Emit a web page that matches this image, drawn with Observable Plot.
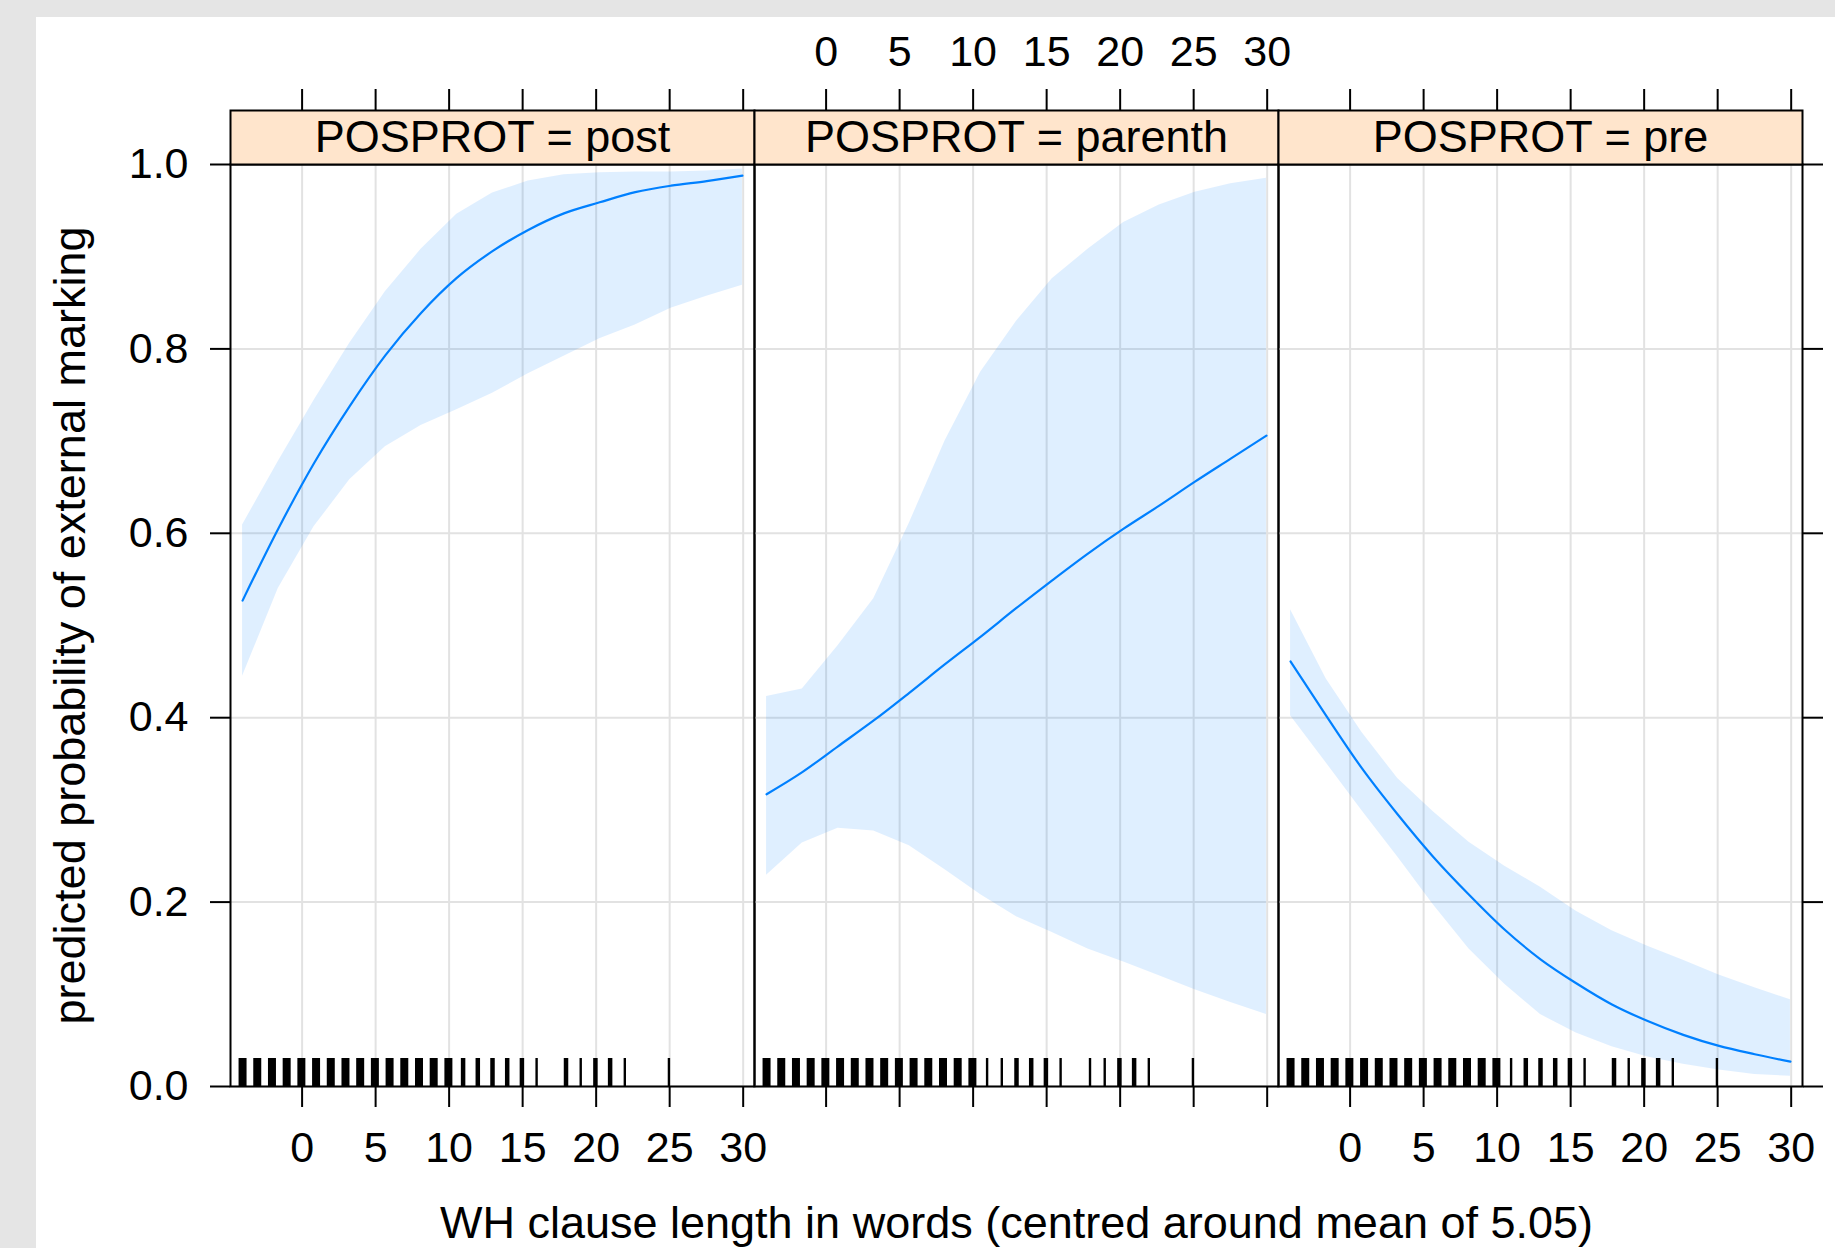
<!DOCTYPE html>
<html><head><meta charset="utf-8">
<script src="https://cdn.jsdelivr.net/npm/d3@7"></script>
<script src="https://cdn.jsdelivr.net/npm/@observablehq/plot@0.6"></script>
<style>
html,body{margin:0;padding:0;background:#e5e5e5;}
#page{position:relative;width:1835px;height:1248px;background:#e5e5e5;overflow:hidden;}
#white{position:absolute;left:36px;top:17px;right:0;bottom:0;background:#fff;}
.panel{position:absolute;top:0;}
</style></head>
<body><div id="page"><div id="white"></div></div>
<script>
// ---- data ----
const panelNames = ["POSPROT = post", "POSPROT = parenth", "POSPROT = pre"];
const xTicks = [0, 5, 10, 15, 20, 25, 30];
const yTicks = [0, 0.2, 0.4, 0.6, 0.8, 1.0];
const xGrid = [-4.05, -1.62, 0.81, 3.24, 5.66, 8.09, 10.52, 12.95, 15.38, 17.81, 20.24, 22.66, 25.09, 27.52, 29.95];

const postFit = [0.527, 0.605, 0.676, 0.738, 0.793, 0.839, 0.877, 0.906, 0.929, 0.947, 0.959, 0.970, 0.977, 0.982, 0.988];
const postLo  = [0.445, 0.540, 0.607, 0.658, 0.694, 0.717, 0.734, 0.752, 0.773, 0.792, 0.811, 0.826, 0.844, 0.857, 0.869];
const postHi  = [0.609, 0.678, 0.744, 0.806, 0.862, 0.908, 0.946, 0.969, 0.982, 0.989, 0.991, 0.992, 0.992, 0.993, 0.995];

const parFit = [0.317, 0.341, 0.369, 0.397, 0.427, 0.458, 0.488, 0.519, 0.549, 0.578, 0.605, 0.630, 0.656, 0.681, 0.706];
const parLo  = [0.229, 0.264, 0.280, 0.277, 0.261, 0.235, 0.208, 0.184, 0.167, 0.149, 0.135, 0.120, 0.105, 0.091, 0.078];
const parHi  = [0.423, 0.431, 0.478, 0.529, 0.611, 0.700, 0.775, 0.830, 0.876, 0.908, 0.937, 0.956, 0.970, 0.979, 0.985];

const preFit = [0.461, 0.402, 0.345, 0.295, 0.249, 0.208, 0.170, 0.138, 0.112, 0.089, 0.071, 0.056, 0.044, 0.035, 0.027];
const preLo  = [0.402, 0.351, 0.299, 0.249, 0.197, 0.149, 0.111, 0.078, 0.058, 0.043, 0.032, 0.024, 0.018, 0.013, 0.011];
const preHi  = [0.517, 0.442, 0.384, 0.334, 0.298, 0.265, 0.239, 0.216, 0.190, 0.169, 0.152, 0.137, 0.121, 0.107, 0.094];

// rug: observed clause lengths (centred), grouped by how many observations overlap
const rugDense = [-4.05, -3.05, -2.05, -1.05, -0.05, 0.95, 1.95, 2.95, 3.95, 4.95, 5.95, 6.95, 7.95, 8.95, 9.95];
const postRugMid  = [10.95, 11.95, 12.95, 13.95, 14.95, 17.95, 19.95, 20.95];
const postRugThin = [15.95, 18.95, 21.95, 24.95];
const parRugMid   = [12.95, 13.95, 14.95, 19.95, 20.95];
const parRugThin  = [10.95, 11.95, 15.95, 17.95, 18.95, 21.95, 24.95];
const preRugMid   = [11.95, 12.95, 13.95, 14.95, 17.95, 19.95, 20.95];
const preRugThin  = [10.95, 15.95, 18.95, 21.95, 24.95];

const xTitle = "WH clause length in words (centred around mean of 5.05)";
const yTitle = "predicted probability of external marking";

// ---- drawing ----
const FONT = "'Liberation Sans', Arial, Helvetica, sans-serif";
const H = 1248, MT = 110, MB = 162;
const FRAME_H = H - MT - MB;      // 976 (strip + panel)
const STRIP = 54;
const BLUE = "#0080ff";

function makePanel(cfg) {
  const data = xGrid.map((x, i) => ({x, fit: cfg.fit[i], lo: cfg.lo[i], hi: cfg.hi[i]}));
  const marks = [
    Plot.gridX({ticks: xTicks, stroke: "#e2e2e2", strokeOpacity: 1, strokeWidth: 2, insetTop: STRIP}),
    Plot.gridY({ticks: yTicks, stroke: "#e2e2e2", strokeOpacity: 1, strokeWidth: 2}),
    Plot.areaY(data, {x: "x", y1: "lo", y2: "hi", fill: BLUE, fillOpacity: 0.125}),
    Plot.lineY(data, {x: "x", y: "fit", stroke: BLUE, strokeWidth: 2.2, curve: "monotone-x"}),
    Plot.ruleX(rugDense, {x: d => d, stroke: "black", strokeWidth: 8, insetTop: FRAME_H - 28}),
    Plot.ruleX(cfg.rugMid, {x: d => d, stroke: "black", strokeWidth: 4.5, insetTop: FRAME_H - 28}),
    Plot.ruleX(cfg.rugThin, {x: d => d, stroke: "black", strokeWidth: 2.4, insetTop: FRAME_H - 28}),
    Plot.frame({stroke: "black", strokeWidth: 2, insetTop: STRIP}),
    Plot.frame({fill: "#ffe5cc", stroke: "black", strokeWidth: 2, insetBottom: FRAME_H - STRIP}),
    Plot.text([cfg.name], {text: d => d, frameAnchor: "top", dy: STRIP / 2, lineAnchor: "middle", fontSize: 45, fill: "black"}),
    Plot.axisX({anchor: "bottom", ticks: xTicks, tickSize: 21, tickPadding: 24, strokeWidth: 2, fontSize: 43,
                tickFormat: cfg.bottomLabels ? d => String(d) : () => "", label: null}),
    Plot.axisX({anchor: "top", ticks: xTicks, tickSize: 22, tickPadding: 23, strokeWidth: 2, fontSize: 43,
                tickFormat: cfg.topLabels ? d => String(d) : () => "", label: null})
  ];
  if (cfg.yLabels) {
    marks.push(Plot.axisY({anchor: "left", ticks: yTicks, tickSize: 20, tickPadding: 22, strokeWidth: 2, fontSize: 43,
                           tickFormat: d3.format(".1f"), label: null}));
    marks.push(Plot.text([yTitle], {text: d => d, frameAnchor: "left", rotate: -90, dx: -160, dy: 27,
                                    lineAnchor: "middle", textAnchor: "middle", fontSize: 45, fill: "black"}));
  }
  if (cfg.rightTicks) {
    marks.push(Plot.axisY({anchor: "right", ticks: yTicks, tickSize: 20, strokeWidth: 2, tickFormat: () => "", label: null}));
  }
  if (cfg.xTitle) {
    marks.push(Plot.text([xTitle], {text: d => d, frameAnchor: "bottom", dy: 137, lineAnchor: "middle",
                                    fontSize: 45, fill: "black"}));
  }
  const plot = Plot.plot({
    width: cfg.width, height: H,
    marginTop: MT, marginBottom: MB, marginLeft: cfg.mL, marginRight: cfg.mR,
    x: {domain: [-4.87, 30.77], label: null},
    y: {domain: [0, 1], range: [1086, 164], label: null, axis: cfg.yLabels || cfg.rightTicks ? undefined : null},
    style: {fontFamily: FONT, fontSize: "43px", background: "transparent", color: "black", overflow: "visible", maxWidth: "none"},
    marks
  });
  const wrap = document.createElement("div");
  wrap.className = "panel";
  wrap.style.left = cfg.left + "px";
  wrap.style.width = cfg.width + "px";
  wrap.appendChild(plot);
  document.getElementById("page").appendChild(wrap);
}

makePanel({name: panelNames[0], fit: postFit, lo: postLo, hi: postHi, rugMid: postRugMid, rugThin: postRugThin,
           left: 0, width: 754, mL: 230, mR: 0, bottomLabels: true, topLabels: false, yLabels: true});
makePanel({name: panelNames[1], fit: parFit, lo: parLo, hi: parHi, rugMid: parRugMid, rugThin: parRugThin,
           left: 754, width: 524, mL: 0, mR: 0, bottomLabels: false, topLabels: true, xTitle: true});
makePanel({name: panelNames[2], fit: preFit, lo: preLo, hi: preHi, rugMid: preRugMid, rugThin: preRugThin,
           left: 1278, width: 557, mL: 0, mR: 33, bottomLabels: true, topLabels: false, rightTicks: true});
</script>
</body></html>
